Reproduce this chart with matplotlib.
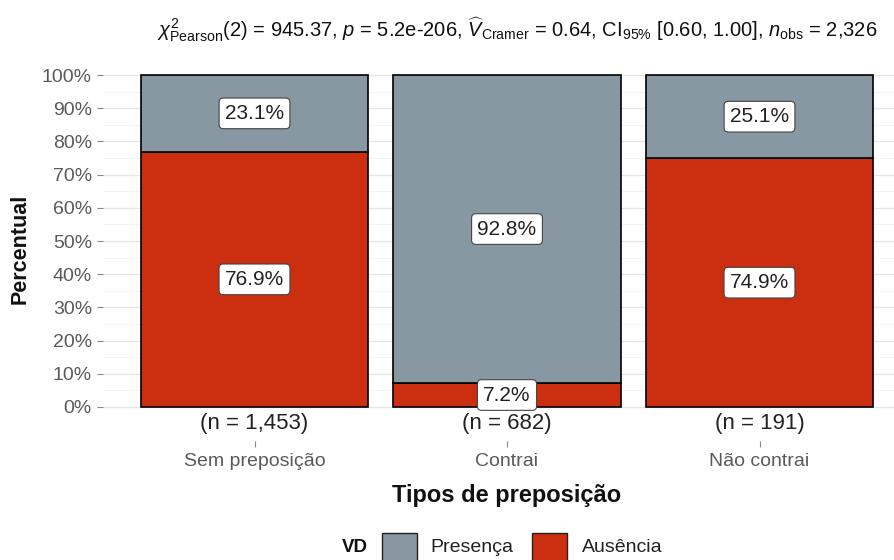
import matplotlib
matplotlib.use("Agg")
import matplotlib.pyplot as plt
from matplotlib.patches import Rectangle
from matplotlib.ticker import FixedLocator, PercentFormatter

plt.rcParams['font.family'] = ['Liberation Sans', 'DejaVu Sans']
plt.rcParams['mathtext.fontset'] = 'custom'
plt.rcParams['mathtext.rm'] = 'Liberation Sans'
plt.rcParams['mathtext.it'] = 'Liberation Sans:italic'
plt.rcParams['mathtext.bf'] = 'Liberation Sans:bold'

# ---------------------------------------------------------------- data ---- #
categories = ["Sem preposição", "Contrai", "Não contrai"]
n_counts = [1453, 682, 191]
ausencia_pct = [76.9, 7.2, 74.9]
presenca_pct = [23.1, 92.8, 25.1]
legend_labels = ["Presença", "Ausência"]

subtitle = (r"$\chi^2_{\mathrm{Pearson}}(2)$ = 945.37, $p$ = 5.2e-206, "
            r"$\widehat{V}_{\mathrm{Cramer}}$ = 0.64, CI$_{95\%}$ [0.60, 1.00], "
            r"$n_{\mathrm{obs}}$ = 2,326")

col_presenca = "#8798A2"
col_ausencia = "#CC2E10"
text_grey = "#5A5A5A"

# ---------------------------------------------------------------- plot ---- #
W, H = 894, 560
fig = plt.figure(figsize=(W / 100, H / 100), dpi=100)
ax = fig.add_axes([103 / W, (H - 441) / H, 808 / W, (441 - 57.6) / H])

x = list(range(1, len(categories) + 1))
aus = [v / 100 for v in ausencia_pct]
pre = [v / 100 for v in presenca_pct]

ax.bar(x, aus, width=0.9, color=col_ausencia, edgecolor="black", linewidth=1.2, zorder=3)
ax.bar(x, pre, width=0.9, bottom=aus, color=col_presenca, edgecolor="black",
       linewidth=1.2, zorder=3)

box = dict(boxstyle="round,pad=0.28,rounding_size=0.2", facecolor="white",
           edgecolor="#444444", linewidth=0.8)
for xi, a, p in zip(x, aus, pre):
    ax.text(xi, a / 2, f"{a * 100:.1f}%", ha="center", va="center", fontsize=15,
            color="#222222", bbox=box, zorder=5)
    ax.text(xi, a + p / 2, f"{p * 100:.1f}%", ha="center", va="center", fontsize=15,
            color="#222222", bbox=box, zorder=5)

for xi, n in zip(x, n_counts):
    ax.text(xi, -0.05, f"(n = {n:,})", ha="center", va="center", fontsize=16,
            color="#222222", zorder=5)

ax.set_xlim(0.4, 3.6)
ax.set_ylim(-0.1025, 1.0525)
ax.set_xticks(x)
ax.set_xticklabels(categories)
ax.set_yticks([i / 10 for i in range(11)])
ax.yaxis.set_minor_locator(FixedLocator([i / 10 + 0.05 for i in range(10)]))
ax.yaxis.set_major_formatter(PercentFormatter(1.0, decimals=0))

ax.grid(True, which="major", axis="y", color="#E6E6E6", linewidth=0.9, zorder=0)
ax.grid(True, which="minor", axis="y", color="#F2F2F2", linewidth=0.6, zorder=0)
for s in ax.spines.values():
    s.set_visible(False)
ax.tick_params(axis="both", which="major", colors="#888888", length=4, width=0.8,
               labelsize=14, labelcolor=text_grey)
ax.tick_params(axis="x", pad=5)
ax.tick_params(axis="y", pad=4)
ax.tick_params(which="minor", length=0)

ax.set_xlabel("Tipos de preposição", fontsize=17, fontweight="bold", labelpad=10,
              color="#111111")
ax.set_ylabel("Percentual", fontsize=15.5, fontweight="bold", labelpad=8,
              color="#111111")

fig.text(517 / W, 1 - 30 / H, subtitle, ha="center", va="center", fontsize=14.5,
         color="#111111")

# legend drawn on the figure, key boxes with black outline
ly = 1 - 547 / H
fig.text(355 / W, ly, "VD", ha="center", va="center", fontsize=13.5,
         fontweight="bold", color="#111111")
for left, col, lab, tx in [(382, col_presenca, legend_labels[0], 430),
                           (532, col_ausencia, legend_labels[1], 582)]:
    fig.add_artist(Rectangle((left / W, ly - 14 / H), 35 / W, 28 / H,
                             transform=fig.transFigure, facecolor=col,
                             edgecolor="#222222", linewidth=1.0))
    fig.text(tx / W, ly, lab, ha="left", va="center", fontsize=14, color="#222222")

fig.savefig("out.png", dpi=100)
